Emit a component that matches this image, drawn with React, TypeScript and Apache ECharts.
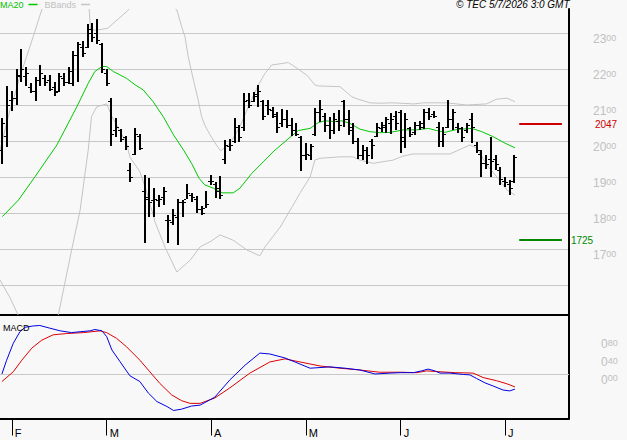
import React, { useEffect, useRef } from "react";
import * as echarts from "echarts";

// ---- Daily OHLC bars (index 0 = first bar on the chart) ----
const opens = [1975,2014,2114,2119,2183,2180,2150,2140,2170,2175,2170,2150,2140,2175,2165,2160,2240,2260,2260,2310,2300,2270,2190,2110,2030,2030,2010,1920,1965,2015,1860,1845,1835,1835,1845,1780,1775,1790,1830,1840,1850,1840,1810,1815,1890,1880,1860,1950,1985,2000,2040,2040,2115,2110,2130,2110,2100,2085,2070,2050,2060,2045,2030,2010,1960,1960,2020,2080,2070,2045,2030,2055,2110,2060,2040,2000,1960,1975,2000,2015,2035,2040,2050,2070,2080,2010,2035,2025,2045,2050,2080,2075,2040,2000,2040,2060,2040,2035,2030,2060,1990,1965,1940,1950,1950,1920,1890,1880,1890];
const highs = [2063,2153,2140,2199,2255,2205,2160,2179,2211,2183,2183,2165,2188,2188,2205,2250,2275,2279,2325,2329,2338,2273,2199,2119,2063,2032,2014,1938,2035,2019,1906,1896,1869,1850,1873,1794,1810,1838,1836,1881,1855,1847,1819,1861,1906,1887,1903,2003,2005,2063,2044,2134,2132,2137,2156,2114,2114,2095,2081,2088,2086,2063,2049,2014,1995,1993,2093,2114,2077,2068,2077,2086,2114,2086,2049,2007,1989,1984,2005,2051,2054,2068,2077,2084,2086,2077,2040,2054,2056,2088,2093,2084,2054,2040,2114,2088,2049,2040,2051,2077,1998,1975,1961,2012,1961,1927,1899,1892,1961];
const lows = [1935,1982,2084,2100,2165,2153,2132,2112,2153,2153,2139,2125,2137,2153,2158,2153,2165,2234,2258,2276,2269,2188,2154,1986,2012,1998,1975,1887,1961,1975,1716,1790,1788,1818,1822,1718,1767,1711,1790,1838,1831,1799,1794,1813,1878,1843,1838,1936,1973,1994,1998,2029,2091,2109,2095,2058,2072,2063,2023,2040,2035,2014,2014,1918,1947,1947,2014,2054,2026,2005,2019,2029,2040,2017,1992,1949,1947,1936,1949,2010,2026,2023,2019,2031,1966,1980,2012,2017,2031,2032,2058,2063,1984,1984,2035,2031,2021,1998,2021,1994,1966,1899,1921,1899,1919,1878,1873,1850,1884];
const closes = [2050,2100,2120,2180,2200,2190,2140,2170,2190,2165,2145,2135,2180,2165,2195,2240,2270,2245,2300,2290,2280,2200,2160,2020,2040,2005,1985,1900,2020,1980,1840,1830,1840,1840,1860,1780,1795,1830,1830,1855,1845,1810,1800,1825,1890,1870,1850,1990,1990,2040,2010,2110,2100,2125,2140,2070,2090,2075,2040,2060,2045,2030,2020,1960,1965,1985,2080,2090,2045,2030,2060,2045,2060,2030,2000,1960,1975,1960,1990,2040,2045,2060,2060,2050,2000,2060,2020,2045,2040,2080,2070,2070,2000,2020,2060,2080,2035,2010,2045,2040,1975,1940,1935,1945,1935,1895,1885,1870,1955];

// ---- MA20: [bar index, value] ----
const ma20 = [[0,1790],[3.4,1836],[6.9,1901],[11.5,1989],[15.7,2095],[18.1,2160],[19.5,2193],[21,2207],[22,2207],[23.4,2193],[26.2,2174],[28,2156],[29.7,2142],[31.8,2109],[33.9,2068],[36.1,2017],[38.2,1975],[39.9,1938],[41.5,1896],[42.7,1878],[44.5,1869],[46.3,1856],[48.7,1856],[50.1,1869],[52.6,1910],[55.4,1947],[57.1,1970],[60,2003],[62.4,2029],[64.9,2035],[66.6,2051],[68,2056],[70.1,2054],[71.6,2056],[73.3,2049],[75.4,2033],[77.5,2026],[79.6,2023],[81.8,2024],[84.6,2031],[87.4,2031],[89.8,2035],[91.6,2029],[93.3,2024],[95.8,2032],[99,2035],[101.1,2026],[103.5,2012],[106,1994],[108.1,1981]];

// ---- Bollinger bands (segments that stay inside the plot) ----
const upperBandA = [[-0.5,1975],[1.6,2086],[2.3,2114],[3.7,2179],[5.1,2234],[6.5,2290],[8.3,2364],[8.4,2366.7]];
const upperBandB = [[18.3,2366.7],[18.6,2308],[19.9,2308],[22.2,2313],[26.6,2364],[26.7,2366.7]];
const upperBandC = [[36.5,2366.7],[36.8,2364],[37.8,2318],[38.5,2290],[39.2,2234],[40.3,2169],[41.3,2114],[42,2068],[42.7,2044],[43.8,2017],[45.3,1986],[46,1973],[47,1982],[48,1993],[50.1,2040],[52.2,2105],[54,2156],[55.4,2188],[56.8,2211],[60.3,2218],[61.7,2206],[64.2,2183],[65.9,2156],[66.6,2153],[71.2,2151],[73.7,2123],[74.4,2119],[77.5,2106],[79.6,2105],[82.4,2106],[86.7,2103],[88.8,2106],[93.7,2106],[97.9,2100],[102.1,2103],[104.2,2116],[106.4,2119],[108.1,2109]];
const lowerBandA = [[-0.5,1614],[1.6,1565],[3.3,1517]];
const lowerBandB = [[11.8,1517],[14.6,1697],[16.4,1808],[18.1,1975],[18.8,2068],[19.9,2095],[22,2103],[23.1,2068],[26.2,1994],[26.9,1955],[29,1915],[30.4,1860],[32.2,1775],[34.3,1705],[36.8,1636],[39.6,1669],[41.7,1706],[43.8,1720],[45.9,1739],[48.6,1725],[51.6,1697],[54.3,1681],[55.4,1706],[58.6,1761],[61.1,1817],[62.8,1856],[64.9,1900],[65.9,1947],[67,1952],[71.2,1956],[73.9,1956],[75.4,1947],[78.2,1938],[82.4,1947],[84.5,1958],[86.6,1964],[94.4,1964],[97.1,1980],[98.6,1989],[100.1,1980],[102.2,1933],[104.3,1900],[106.4,1864],[108.1,1850]];

// ---- MACD panel ----
const macdLine = [[-0.1,0],[0.9,0.31],[2.3,0.69],[3.7,0.95],[4.8,1.05],[6.5,1.08],[7.9,1.09],[10,1.03],[12.2,0.97],[14.6,0.93],[16.4,0.95],[18.5,0.97],[19.5,1.0],[21,0.97],[22,0.84],[23.1,0.54],[24.8,0.28],[26.9,-0.04],[29,-0.17],[30.8,-0.43],[32.6,-0.62],[34.7,-0.73],[36.1,-0.82],[37.8,-0.79],[39.9,-0.72],[41.7,-0.7],[44.8,-0.52],[48,-0.13],[51.2,0.2],[54.3,0.47],[56.4,0.45],[59.6,0.36],[61.7,0.27],[64.9,0.13],[69.1,0.16],[72.3,0.13],[75.4,0.09],[78.6,0],[81.8,0.02],[83.9,0.03],[86.7,0.03],[88.4,0.07],[89.8,0.11],[91.2,0.07],[92.3,0.02],[94.4,0.02],[97.2,-0.01],[98.6,-0.02],[100,-0.1],[101.8,-0.2],[103.5,-0.27],[105.6,-0.36],[107,-0.38],[108.1,-0.34]];
const signalLine = [[-0.1,-0.17],[2.3,0.05],[4.1,0.31],[6.2,0.58],[8.3,0.76],[10.7,0.88],[13.6,0.91],[17.1,0.93],[20.6,0.97],[22,0.93],[24.1,0.8],[26.2,0.61],[29,0.31],[31.1,0.05],[33.2,-0.21],[35.7,-0.47],[37.8,-0.6],[39.6,-0.66],[41.7,-0.66],[44.8,-0.54],[48,-0.31],[52.2,0.02],[56.4,0.27],[59.6,0.34],[62.8,0.27],[67,0.18],[71.2,0.13],[75.4,0.09],[79.6,0.04],[83.9,0.04],[87.4,0.03],[89.5,0.07],[92.3,0.05],[95.5,0.03],[99.3,0.02],[101.4,-0.08],[104.2,-0.15],[106.4,-0.22],[108.1,-0.29]];

// ---- Axis / annotation content ----
const monthTickIndex = [2, 22, 44, 64, 84, 106];
const monthTickLabel = ["F", "M", "A", "M", "J", "J"];
const priceLabelValues = [1700, 1800, 1900, 2000, 2100, 2200, 2300];
const macdLabelValues = [0, 0.4, 0.8];
const levelValues = [2047, 1725];
const levelSpan = [109, 118];
const copyrightText = "© TEC 5/7/2026 3:0 GMT";

const FONT = "'Liberation Sans', Arial, sans-serif";
const SLOTS = 120;

export default function App() {
  const ref = useRef<HTMLDivElement>(null);

  useEffect(() => {
    if (!ref.current) return;
    const chart = echarts.init(ref.current, undefined, { renderer: "svg" });
    const cats = Array.from({ length: SLOTS }, (_, i) => String(i));
    const ohlc = opens.map((o, i) => [i, o, highs[i], lows[i], closes[i]]);
    const bandStyle = { color: "#c4c4c4", width: 1 };
    const bandSeries = [upperBandA, upperBandB, upperBandC, lowerBandA, lowerBandB].map((d) => ({
      name: "BBands",
      type: "line",
      xAxisIndex: 0,
      yAxisIndex: 0,
      data: d,
      showSymbol: false,
      symbol: "none",
      color: "#c4c4c4",
      lineStyle: bandStyle,
      silent: true,
      z: 2,
    }));

    const option: any = {
      animation: false,
      backgroundColor: "#f8f8f8",
      textStyle: { fontFamily: FONT },
      title: [
        {
          text: copyrightText,
          left: 456,
          top: -1,
          padding: 0,
          textStyle: { fontSize: 10, fontStyle: "italic", fontWeight: "normal", color: "#000", fontFamily: FONT },
        },
        {
          text: "MACD",
          left: 3,
          top: 323,
          padding: 0,
          textStyle: { fontSize: 9, fontWeight: "normal", color: "#000", fontFamily: FONT },
        },
      ],
      legend: {
        left: 0,
        top: 0,
        padding: 0,
        align: "right",
        icon: "rect",
        itemWidth: 9,
        itemHeight: 1.5,
        itemGap: 7,
        selectedMode: false,
        textStyle: { fontSize: 9, fontFamily: FONT },
        data: [
          { name: "MA20", textStyle: { color: "#00c000" } },
          { name: "BBands", textStyle: { color: "#c0c0c0" } },
        ],
      },
      grid: [
        { left: 0, right: 58, top: 9, height: 312 },
        { left: 0, right: 58, top: 315, height: 103.5 },
      ],
      xAxis: [
        { gridIndex: 0, type: "value", min: -0.5, max: SLOTS - 0.5, show: false },
        { gridIndex: 1, type: "value", min: -0.5, max: SLOTS - 0.5, show: false },
        {
          gridIndex: 1,
          type: "category",
          data: cats,
          position: "bottom",
          axisLine: { show: true, onZero: false, lineStyle: { color: "#000", width: 2 } },
          axisTick: {
            show: true,
            alignWithLabel: true,
            interval: (idx: number) => monthTickIndex.includes(idx),
            length: 17,
            lineStyle: { color: "#000", width: 1 },
          },
          axisLabel: {
            show: true,
            interval: (idx: number) => monthTickIndex.includes(idx),
            formatter: (v: string) => {
              const k = monthTickIndex.indexOf(Number(v));
              return k >= 0 ? monthTickLabel[k] : "";
            },
            align: "left",
            margin: 9,
            padding: [0, 0, 0, 3],
            color: "#000",
            fontSize: 11,
            fontFamily: FONT,
          },
          splitLine: { show: false },
        },
        {
          gridIndex: 1,
          type: "category",
          data: cats,
          position: "top",
          axisLine: { show: true, onZero: false, lineStyle: { color: "#000", width: 2 } },
          axisTick: { show: false },
          axisLabel: { show: false },
          splitLine: { show: false },
        },
      ],
      yAxis: [
        {
          gridIndex: 0,
          type: "value",
          position: "right",
          min: 1500,
          max: 2366.67,
          interval: 100,
          axisLine: { show: true, onZero: false, lineStyle: { color: "#000", width: 2 } },
          axisTick: { show: false },
          splitLine: { show: true, showMinLine: false, showMaxLine: false, lineStyle: { color: "#c8c8c8", width: 1 } },
          axisLabel: {
            margin: 24,
            verticalAlign: "top",
            formatter: (v: number) =>
              priceLabelValues.includes(Math.round(v)) && Math.abs(v - Math.round(v)) < 1e-6
                ? `{a|${Math.floor(v / 100)}}{b|00}`
                : "",
            rich: {
              a: { fontSize: 12, color: "#c0c0c0", fontFamily: FONT, lineHeight: 12 },
              b: { fontSize: 9, color: "#c0c0c0", fontFamily: FONT, verticalAlign: "top", lineHeight: 12 },
            },
          },
        },
        {
          gridIndex: 1,
          type: "value",
          position: "right",
          min: -1,
          max: 1.3258,
          interval: 0.2,
          axisLine: { show: true, onZero: false, lineStyle: { color: "#000", width: 2 } },
          axisTick: { show: false },
          splitLine: { show: false },
          axisLabel: {
            margin: 32,
            verticalAlign: "top",
            formatter: (v: number) => {
              const k = macdLabelValues.findIndex((m) => Math.abs(m - v) < 1e-6);
              if (k < 0) return "";
              const cents = Math.round(macdLabelValues[k] * 100);
              return `{a|0}{b|${String(cents).padStart(2, "0")}}`;
            },
            rich: {
              a: { fontSize: 12, color: "#c0c0c0", fontFamily: FONT, lineHeight: 12 },
              b: { fontSize: 9, color: "#c0c0c0", fontFamily: FONT, verticalAlign: "top", lineHeight: 12 },
            },
          },
        },
      ],
      series: [
        ...bandSeries,
        {
          name: "MA20",
          type: "line",
          xAxisIndex: 0,
          yAxisIndex: 0,
          data: ma20,
          showSymbol: false,
          symbol: "none",
          color: "#00c800",
          lineStyle: { color: "#00c800", width: 1 },
          silent: true,
          z: 3,
          markLine: {
            silent: true,
            symbol: ["none", "none"],
            animation: false,
            data: [
              [
                {
                  coord: [levelSpan[0], levelValues[0]],
                  lineStyle: { color: "#cc0000", width: 2, type: "solid" },
                  label: { show: true, position: "end", distance: 33, formatter: String(levelValues[0]), color: "#cc0000", fontSize: 10, fontFamily: FONT },
                },
                { coord: [levelSpan[1], levelValues[0]] },
              ],
              [
                {
                  coord: [levelSpan[0], levelValues[1]],
                  lineStyle: { color: "#008800", width: 2, type: "solid" },
                  label: { show: true, position: "end", distance: 9, formatter: String(levelValues[1]), color: "#008800", fontSize: 10, fontFamily: FONT },
                },
                { coord: [levelSpan[1], levelValues[1]] },
              ],
            ],
          },
        },
        {
          name: "OHLC",
          type: "custom",
          xAxisIndex: 0,
          yAxisIndex: 0,
          data: ohlc,
          encode: { x: 0, y: [1, 2, 3, 4] },
          silent: true,
          z: 4,
          renderItem: (params: any, api: any) => {
            const i = api.value(0);
            const pO = api.coord([i, api.value(1)]);
            const pH = api.coord([i, api.value(2)]);
            const pL = api.coord([i, api.value(3)]);
            const pC = api.coord([i, api.value(4)]);
            const x = Math.round(pH[0]);
            const yH = Math.round(pH[1]);
            const yL = Math.round(pL[1]);
            return {
              type: "group",
              children: [
                { type: "rect", shape: { x: x - 1, y: yH, width: 2, height: Math.max(1, yL - yH) }, style: { fill: "#000" } },
                { type: "rect", shape: { x: x - 3, y: Math.round(pO[1]), width: 2, height: 1 }, style: { fill: "#000" } },
                { type: "rect", shape: { x: x + 1, y: Math.round(pC[1]), width: 2, height: 1 }, style: { fill: "#000" } },
              ],
            };
          },
        },
        {
          name: "MACD",
          type: "line",
          xAxisIndex: 1,
          yAxisIndex: 1,
          data: macdLine,
          showSymbol: false,
          symbol: "none",
          color: "#0000e0",
          lineStyle: { color: "#0000e0", width: 1 },
          silent: true,
          z: 3,
          markLine: {
            silent: true,
            symbol: ["none", "none"],
            animation: false,
            label: { show: false },
            lineStyle: { color: "#c8c8c8", width: 1, type: "solid" },
            data: [{ yAxis: 0 }],
            z: 1,
          },
        },
        {
          name: "Signal",
          type: "line",
          xAxisIndex: 1,
          yAxisIndex: 1,
          data: signalLine,
          showSymbol: false,
          symbol: "none",
          color: "#dd0000",
          lineStyle: { color: "#dd0000", width: 1 },
          silent: true,
          z: 2,
        },
      ],
    };

    chart.setOption(option);
    return () => chart.dispose();
  }, []);

  return (
    <div
      ref={ref}
      style={{ position: "absolute", left: 0, top: 0, width: 627, height: 440 }}
    />
  );
}
